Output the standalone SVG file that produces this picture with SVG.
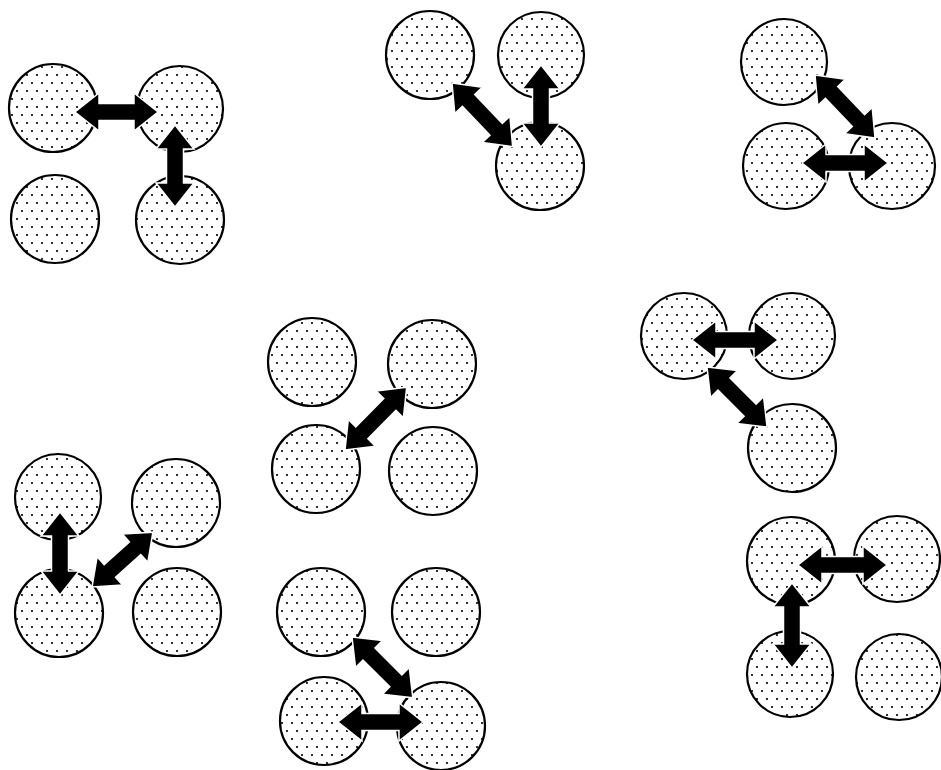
<svg xmlns="http://www.w3.org/2000/svg" width="941" height="770" viewBox="0 0 941 770">
<style>
.c{fill:url(#dots);stroke:#000;stroke-width:2.2}
.a{fill:#000;stroke:#fff;stroke-width:1.5;stroke-linejoin:miter}
</style>
<defs>
<pattern id="dots" width="10" height="16" patternUnits="userSpaceOnUse">
<rect width="10" height="16" fill="#fff"/>
<circle cx="2" cy="3" r="1.1" fill="#000"/>
<circle cx="7" cy="11" r="1.1" fill="#000"/>
</pattern>
</defs>
<g id="n1"><circle class="c" cx="53" cy="108" r="44"/></g>
<g id="n2"><circle class="c" cx="180" cy="109" r="43"/></g>
<g id="n3"><circle class="c" cx="55" cy="219" r="44"/></g>
<g id="n4"><circle class="c" cx="180" cy="220" r="44"/></g>
<g id="n5"><circle class="c" cx="430" cy="55" r="44"/></g>
<g id="n6"><circle class="c" cx="541" cy="55" r="43"/></g>
<g id="n7"><circle class="c" cx="540" cy="166" r="44"/></g>
<g id="n8"><circle class="c" cx="784" cy="62" r="43"/></g>
<g id="n9"><circle class="c" cx="786" cy="166" r="43"/></g>
<g id="n10"><circle class="c" cx="892" cy="166" r="43"/></g>
<g id="n11"><circle class="c" cx="312" cy="362" r="44"/></g>
<g id="n12"><circle class="c" cx="432" cy="364" r="44"/></g>
<g id="n13"><circle class="c" cx="316" cy="469" r="44"/></g>
<g id="n14"><circle class="c" cx="433" cy="471" r="44"/></g>
<g id="n15"><circle class="c" cx="684" cy="336" r="43"/></g>
<g id="n16"><circle class="c" cx="792" cy="336" r="43"/></g>
<g id="n17"><circle class="c" cx="792" cy="448" r="44"/></g>
<g id="n18"><circle class="c" cx="58" cy="497" r="43"/></g>
<g id="n19"><circle class="c" cx="176" cy="503" r="44"/></g>
<g id="n20"><circle class="c" cx="59" cy="613" r="44"/></g>
<g id="n21"><circle class="c" cx="177" cy="612" r="44"/></g>
<g id="n22"><circle class="c" cx="321" cy="612" r="44"/></g>
<g id="n23"><circle class="c" cx="436" cy="612" r="44"/></g>
<g id="n24"><circle class="c" cx="324" cy="721" r="44"/></g>
<g id="n25"><circle class="c" cx="441" cy="726" r="44"/></g>
<g id="n26"><circle class="c" cx="791" cy="561" r="44"/></g>
<g id="n27"><circle class="c" cx="897" cy="559" r="43"/></g>
<g id="n28"><circle class="c" cx="790" cy="674" r="43"/></g>
<g id="n29"><circle class="c" cx="899" cy="677" r="43"/></g>
<g id="connectors">
<polygon class="a" transform="translate(75,112)" points="0,0 24,-19 24,-8.5 59,-8.5 59,-19 83,0 59,19 59,8.5 24,8.5 24,19"/>
<polygon class="a" transform="translate(175,125) rotate(90)" points="0,0 24,-19 24,-8.5 58,-8.5 58,-19 82,0 58,19 58,8.5 24,8.5 24,19"/>
<polygon class="a" transform="translate(452,83) rotate(46.4)" points="0,0 24,-19 24,-8.5 64,-8.5 64,-19 88,0 64,19 64,8.5 24,8.5 24,19"/>
<polygon class="a" transform="translate(541,65) rotate(90)" points="0,0 24,-19 24,-8.5 58,-8.5 58,-19 82,0 58,19 58,8.5 24,8.5 24,19"/>
<polygon class="a" transform="translate(815,75) rotate(46.4)" points="0,0 24,-19 24,-8.5 63,-8.5 63,-19 87,0 63,19 63,8.5 24,8.5 24,19"/>
<polygon class="a" transform="translate(802,163)" points="0,0 24,-19 24,-8.5 62,-8.5 62,-19 86,0 62,19 62,8.5 24,8.5 24,19"/>
<polygon class="a" transform="translate(345,450) rotate(-45.5)" points="0,0 24,-19 24,-8.5 64,-8.5 64,-19 88,0 64,19 64,8.5 24,8.5 24,19"/>
<polygon class="a" transform="translate(692,340)" points="0,0 24,-19 24,-8.5 62,-8.5 62,-19 86,0 62,19 62,8.5 24,8.5 24,19"/>
<polygon class="a" transform="translate(707,367) rotate(45)" points="0,0 24,-19 24,-8.5 61,-8.5 61,-19 85,0 61,19 61,8.5 24,8.5 24,19"/>
<polygon class="a" transform="translate(60,512) rotate(90)" points="0,0 24,-19 24,-8.5 59,-8.5 59,-19 83,0 59,19 59,8.5 24,8.5 24,19"/>
<polygon class="a" transform="translate(92,587) rotate(-42)" points="0,0 24,-19 24,-8.5 58,-8.5 58,-19 82,0 58,19 58,8.5 24,8.5 24,19"/>
<polygon class="a" transform="translate(352,637) rotate(45)" points="0,0 24,-19 24,-8.5 62,-8.5 62,-19 86,0 62,19 62,8.5 24,8.5 24,19"/>
<polygon class="a" transform="translate(338,722)" points="0,0 24,-19 24,-8.5 61,-8.5 61,-19 85,0 61,19 61,8.5 24,8.5 24,19"/>
<polygon class="a" transform="translate(798,565)" points="0,0 24,-19 24,-8.5 65,-8.5 65,-19 89,0 65,19 65,8.5 24,8.5 24,19"/>
<polygon class="a" transform="translate(792,583) rotate(90)" points="0,0 24,-19 24,-8.5 61,-8.5 61,-19 85,0 61,19 61,8.5 24,8.5 24,19"/>
</g>
</svg>
